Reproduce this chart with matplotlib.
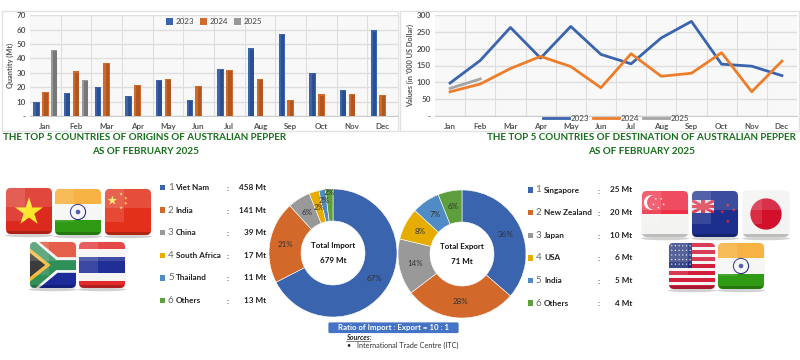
import numpy as np
import matplotlib
matplotlib.use("Agg")
import matplotlib.pyplot as plt
import matplotlib.patches as pat

plt.rcParams['font.family'] = ['Lato', 'DejaVu Sans']
plt.rcParams['hatch.linewidth'] = 0.4
plt.rcParams['hatch.color'] = '#e2e2e2'

# --- data ---
months = ['Jan', 'Feb', 'Mar', 'Apr', 'May', 'Jun', 'Jul', 'Aug', 'Sep', 'Oct', 'Nov', 'Dec']
qty_2023 = [10, 16, 20, 14, 25, 11, 32.5, 47, 57, 30, 18, 59.5]
qty_2024 = [17, 31, 37, 21.5, 26, 21, 32, 25.5, 11, 15, 15.5, 14.5]
qty_2025 = [46, 25]
val_2023 = [98, 165, 263, 172, 266, 183, 155, 232, 281, 154, 148, 120]
val_2024 = [72, 95, 141, 177, 147, 84, 185, 118, 127, 188, 72, 163]
val_2025 = [82, 110]

import_names = ['Viet Nam', 'India', 'China', 'South Africa', 'Thailand', 'Others']
import_mt = [458, 141, 39, 17, 11, 13]
import_pct = [67, 21, 6, 2, 2, 2]
export_names = ['Singapore', 'New Zealand', 'Japan', 'USA', 'India', 'Others']
export_mt = [25, 20, 10, 6, 5, 4]
export_pct = [36, 28, 14, 8, 7, 6]

blue = '#3a64ad'
orange = '#d2692a'
grey = '#999999'
gold = '#e6ac00'
ltblue = '#4f8bc4'
green = '#5f9e3c'
pie_colors = [blue, orange, grey, gold, ltblue, green]
title_green = '#17701c'
W, H = 800, 360

fig = plt.figure(figsize=(8, 3.6), dpi=100, facecolor='white')

def pixel_layer(z):
    # overlay in pixel coordinates, y going down like the picture
    a = fig.add_axes([0, 0, 1, 1], zorder=z)
    a.set_xlim(0, W)
    a.set_ylim(H, 0)
    a.axis('off')
    return a

under = pixel_layer(0)
bg = pixel_layer(3)

def px_axes(l, t, r, b, **kw):
    return fig.add_axes([l / W, 1 - b / H, (r - l) / W, (b - t) / H], **kw)

# chart frames
for x0, x1 in [(2, 398), (400, 799)]:
    under.add_patch(pat.Rectangle((x0, 11), x1 - x0, 120, fc='white', ec='#e2e2e2', lw=1))

def style_chart(ax, ticks, labels, ylabel, ymax):
    ax.add_patch(pat.Rectangle((0, 0), 1, 1, transform=ax.transAxes, fc='#f8f8f8',
                               ec='none', hatch='//////', zorder=0))
    ax.set_xlim(-0.5, 11.5)
    ax.set_ylim(0, ymax)
    ax.set_xticks(range(12))
    ax.set_xticklabels(months, fontsize=5.8, fontweight='bold', color='#555555')
    ax.set_yticks(ticks)
    ax.set_yticklabels(labels, fontsize=5.8, fontweight='bold', color='#555555')
    ax.set_xticks(np.arange(0.5, 11), minor=True)
    ax.tick_params(which='both', length=0)
    ax.tick_params(axis='x', pad=5)
    ax.tick_params(axis='y', pad=3)
    ax.grid(axis='y', color='#dedede', lw=1, zorder=1)
    ax.grid(axis='x', which='minor', color='#dedede', lw=0.8, zorder=1)
    ax.set_axisbelow(True)
    for s in ['top', 'right', 'left']:
        ax.spines[s].set_visible(False)
    ax.spines['bottom'].set_color('#cccccc')
    ax.set_ylabel(ylabel, fontsize=5.3, fontweight='bold', color='#555555', labelpad=2)

# --- bar chart ---
ax1 = px_axes(30, 15.3, 398, 116, zorder=2)
style_chart(ax1, range(0, 71, 10), ['-', 10, 20, 30, 40, 50, 60, 70], 'Quantity (Mt)', 70)
x = np.arange(12)
bw = 0.21
series = [(qty_2023, -0.29, blue, '#2c4f8e', '2023'),
          (qty_2024, 0, orange, '#b0561f', '2024'),
          (qty_2025, 0.29, grey, '#777777', '2025')]
for vals, off, col, dark, lab in series:
    pos = x[:len(vals)] + off
    ax1.bar(pos, vals, bw, color=col, label=lab, zorder=3)
    ax1.bar(pos + 0.03, np.array(vals) - 0.8, bw * 0.55, color=dark, zorder=4)
ax1.legend(loc='upper center', bbox_to_anchor=(0.5, 1.02), ncol=3, frameon=False, fontsize=5.8,
           handlelength=0.9, handleheight=0.9, handletextpad=0.3, columnspacing=0.7,
           borderpad=0.1, labelcolor='#444444')

# --- line chart ---
ax2 = px_axes(435, 15, 797, 116, zorder=2)
style_chart(ax2, range(0, 301, 50), ['-', 50, 100, 150, 200, 250, 300], "Values (in '000 US Dollar)", 300)
ax2.plot(x, val_2023, color=blue, lw=2, label='2023', zorder=3)
ax2.plot(x, val_2024, color='#ee7d2b', lw=2, label='2024', zorder=3)
ax2.plot(x[:2], val_2025, color='#a5a5a5', lw=2, label='2025', zorder=3)
ax2.legend(loc='lower center', bbox_to_anchor=(0.5, -0.1), ncol=3, frameon=False, fontsize=5.8,
           handlelength=3.2, handletextpad=0.2, columnspacing=0.5, borderpad=0,
           labelcolor='#444444')

# --- titles ---
title_kw = dict(color=title_green, fontsize=7.1, fontweight='bold', ha='center', va='center')
bg.text(145, 138, 'THE TOP 5 COUNTRIES OF ORIGINS OF AUSTRALIAN PEPPER', **title_kw)
bg.text(145, 152, 'AS OF FEBRUARY 2025', **title_kw)
bg.text(641, 138, 'THE TOP 5 COUNTRIES OF DESTINATION OF AUSTRALIAN PEPPER', **title_kw)
bg.text(641, 152, 'AS OF FEBRUARY 2025', **title_kw)

# --- donuts ---
def donut(cx, cy, vals, pcts, radii, line1, line2):
    r = 64
    ax = px_axes(cx - r, cy - r, cx + r, cy + r, zorder=2)
    wedges, _ = ax.pie(vals, colors=pie_colors, startangle=90, counterclock=False, radius=1,
                       wedgeprops=dict(width=0.5, edgecolor='white', linewidth=0.4))
    ax.set_xlim(-1, 1)
    ax.set_ylim(-1, 1)
    for w, p, rr in zip(wedges, pcts, radii):
        a = np.deg2rad((w.theta1 + w.theta2) / 2)
        ax.text(rr * np.cos(a), rr * np.sin(a), '%d%%' % p, fontsize=5.8, color='#333333',
                ha='center', va='center')
    ax.text(0, 0.11, line1, fontsize=5.8, fontweight='bold', ha='center', va='center', color='#111111')
    ax.text(0, -0.11, line2, fontsize=5.8, fontweight='bold', ha='center', va='center', color='#111111')

donut(333, 253, import_mt, import_pct, [0.75, 0.75, 0.75, 0.75, 0.84, 0.94], 'Total Import', '679 Mt')
donut(462, 254, export_pct, export_pct, [0.75] * 6, 'Total Export', '71 Mt')

# --- ratio box and sources ---
bg.add_patch(pat.FancyBboxPatch((329, 323), 129, 9.5, boxstyle='round,pad=0.6,rounding_size=1.5',
                                fc='#4472c4', ec='none'))
bg.text(393.5, 327.6, 'Ratio of Import : Export = 10 : 1', color='white', fontsize=5.7,
        fontweight='bold', ha='center', va='center')
bg.text(346, 337.5, 'Sources:', fontsize=5.2, fontweight='bold', fontstyle='italic', color='#222222',
        va='center')
bg.plot([346, 370], [341, 341], color='#222222', lw=0.4)
bg.text(346, 345, '\u2022', fontsize=5, va='center', color='#222222')
bg.text(357, 345.5, 'International Trade Centre (ITC)', fontsize=5.2, va='center', color='#333333')

# --- ranking lists ---
def rank_list(names, mts, xs, xn, xname, xcolon, xval, y0):
    for i, (n, m) in enumerate(zip(names, mts)):
        y = y0 + i * 22.6
        bg.add_patch(pat.Rectangle((xs, y - 2.7), 5.4, 5.4, fc=pie_colors[i], ec='none'))
        bg.text(xn, y, str(i + 1), fontsize=7, color='#666666', va='center')
        bg.text(xname, y, n, fontsize=5.9, fontweight='bold', color='#222222', va='center')
        bg.text(xcolon, y + 1, ':', fontsize=5.9, fontweight='bold', color='#222222', va='center')
        bg.text(xval, y, '%d Mt' % m, fontsize=5.9, fontweight='bold', color='#222222', va='center', ha='right')

rank_list(import_names, import_mt, 160, 168, 175.5, 227, 266, 187.5)
rank_list(export_names, export_mt, 528, 535.5, 544, 598, 632.5, 190)

# --- flags ---
def star(cx, cy, r, rot=-90):
    ang = np.deg2rad(rot + np.arange(10) * 36)
    rad = np.where(np.arange(10) % 2 == 0, r, r * 0.38)
    return np.c_[cx + rad * np.cos(ang), cy + rad * np.sin(ang)]

def flag(x, y, paint, s=46):
    # soft shadow under the tile
    under.add_patch(pat.Ellipse((x + s / 2, y + s + 1.5), s * 1.05, 3.5, fc='#999999', ec='none', alpha=0.45))
    clip = pat.FancyBboxPatch((x + 2, y + 2), s - 4, s - 4, boxstyle='round,pad=2,rounding_size=5',
                              fc='white', ec='#dddddd', lw=0.3)
    bg.add_patch(clip)

    def add(p):
        bg.add_patch(p)
        p.set_clip_path(clip)

    def rect(u0, v0, u1, v1, c):
        add(pat.Rectangle((x + u0 * s, y + v0 * s), (u1 - u0) * s, (v1 - v0) * s, fc=c, ec='none'))

    def poly(pts, c):
        add(pat.Polygon([(x + u * s, y + v * s) for u, v in pts], closed=True, fc=c, ec='none'))

    def circ(u, v, r, c, ec='none', lw=0):
        add(pat.Circle((x + u * s, y + v * s), r * s, fc=c, ec=ec, lw=lw))

    paint(rect, poly, circ)
    # gloss
    rect(0, 0, 1, 0.42, (1, 1, 1, 0.14))
    rect(0, 0, 0.42, 0.72, (1, 1, 1, 0.12))
    rect(0, 0.93, 1, 1, (0, 0, 0, 0.22))

def vietnam(rect, poly, circ):
    rect(0, 0, 1, 1, '#dc2a1e')
    poly(star(0.5, 0.52, 0.32), '#fbe72a')

def india(rect, poly, circ):
    rect(0, 0, 1, 0.33, '#f5a623')
    rect(0, 0.33, 1, 0.68, '#f6f6f4')
    rect(0, 0.68, 1, 1, '#2f9a14')
    circ(0.5, 0.5, 0.165, '#f6f6f4', ec='#2a2f8c', lw=0.8)
    circ(0.5, 0.5, 0.05, '#5560b0')

def china(rect, poly, circ):
    rect(0, 0, 1, 1, '#e3301a')
    poly(star(0.16, 0.25, 0.11), '#fbe04a')
    for u, v in [(0.35, 0.11), (0.45, 0.2), (0.45, 0.31), (0.35, 0.41)]:
        poly(star(u, v, 0.04), '#fbe04a')

def south_africa(rect, poly, circ):
    rect(0, 0, 1, 0.5, '#e0442c')
    rect(0, 0.5, 1, 1, '#1c2a9a')
    poly([(0, 0), (0.2, 0), (0.6, 0.33), (1, 0.33), (1, 0.67), (0.6, 0.67), (0.2, 1), (0, 1)], '#f4f4f4')
    poly([(0, 0), (0.12, 0), (0.57, 0.39), (1, 0.39), (1, 0.61), (0.57, 0.61), (0.12, 1), (0, 1)], '#2f8f58')
    poly([(0, 0.14), (0.45, 0.5), (0, 0.86)], '#f2b632')
    poly([(0, 0.24), (0.33, 0.5), (0, 0.76)], '#222222')

def thailand(rect, poly, circ):
    rect(0, 0, 1, 1, '#e12a2a')
    rect(0, 0.16, 1, 0.84, '#f4f4f2')
    rect(0, 0.33, 1, 0.67, '#1f2f96')

def singapore(rect, poly, circ):
    rect(0, 0, 1, 0.5, '#ee2f45')
    rect(0, 0.5, 1, 1, '#f3f3f1')
    circ(0.2, 0.25, 0.16, '#f8f8f8')
    circ(0.27, 0.25, 0.16, '#ee2f45')
    for u, v in [(0.3, 0.17), (0.42, 0.17), (0.25, 0.29), (0.36, 0.36), (0.47, 0.29)]:
        poly(star(u, v, 0.03), '#f8f8f8')

def new_zealand(rect, poly, circ):
    rect(0, 0, 1, 1, '#1c2f8f')
    rect(0, 0.2, 0.48, 0.48, '#d9d9ee')
    poly([(0, 0.2), (0.06, 0.2), (0.48, 0.44), (0.48, 0.48), (0.42, 0.48), (0, 0.24)], '#d9283a')
    poly([(0.48, 0.2), (0.42, 0.2), (0, 0.44), (0, 0.48), (0.06, 0.48), (0.48, 0.24)], '#d9283a')
    rect(0.2, 0.2, 0.28, 0.48, '#d9283a')
    rect(0, 0.3, 0.48, 0.38, '#d9283a')
    for u, v in [(0.78, 0.31), (0.66, 0.45), (0.91, 0.41), (0.78, 0.66)]:
        poly(star(u, v, 0.05), '#d9283a')

def japan(rect, poly, circ):
    rect(0, 0, 1, 1, '#f3f3f1')
    circ(0.5, 0.5, 0.34, '#d2102c')

def usa(rect, poly, circ):
    rect(0, 0, 1, 1, '#f4f4f4')
    for i in range(0, 13, 2):
        rect(0, i / 13, 1, (i + 1) / 13, '#d41f3c')
    rect(0, 0, 0.5, 0.54, '#1f2f7a')
    for i in range(6):
        for j in range(5):
            circ(0.06 + i * 0.08, 0.06 + j * 0.1, 0.014, '#f4f4f4')

flag(6, 188, vietnam)
flag(55, 189, india)
flag(105, 189, china)
flag(30, 242, south_africa)
flag(79, 242, thailand)
flag(642, 191, singapore)
flag(692, 191, new_zealand)
flag(743, 191, japan)
flag(669, 243, usa)
flag(718, 243, india)

plt.savefig('out.png', dpi=100)
